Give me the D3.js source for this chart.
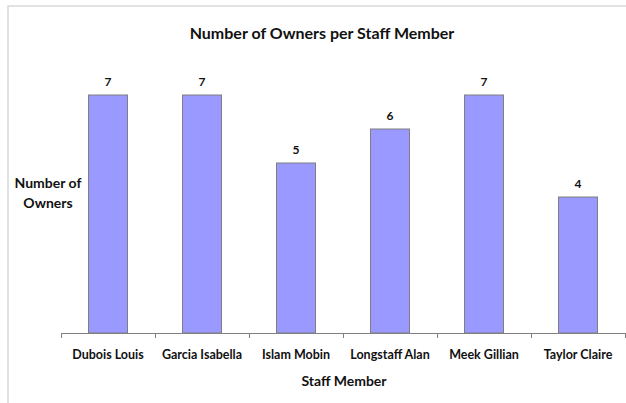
<!DOCTYPE html>
<html>
<head>
<meta charset="utf-8">
<script src="https://cdn.jsdelivr.net/npm/d3@7"></script>
<style>
  body { margin: 0; background: #fff; }
  text { font-family: Lato, "Open Sans", sans-serif; font-weight: bold; fill: #111; }
</style>
</head>
<body>
<div id="graph"></div>
<script>
// Data
const staff = ["Dubois Louis", "Garcia Isabella", "Islam Mobin", "Longstaff Alan", "Meek Gillian", "Taylor Claire"];
const owners = [7, 7, 5, 6, 7, 4];

const width = 626;
const height = 403;
const axisY = 333;
const plotLeft = 61;

const svg = d3.select("#graph").append("svg")
    .attr("width", width)
    .attr("height", height);

// outer frame of the chart
svg.append("rect")
    .attr("x", 8).attr("y", 6)
    .attr("width", 640).attr("height", 420)
    .attr("fill", "none")
    .attr("stroke", "#d9d9d9")
    .attr("stroke-width", 1.5);

const x = d3.scaleBand()
    .domain(staff)
    .range([plotLeft, plotLeft + 94 * staff.length])
    .paddingInner(0.585)
    .paddingOuter(0.2925);

// 1 owner = 34 px
const y = d3.scaleLinear()
    .domain([0, 7])
    .range([axisY, axisY - 238]);

// bars
svg.append("g")
    .selectAll("rect")
    .data(staff)
    .join("rect")
    .attr("x", d => x(d))
    .attr("y", (d, i) => y(owners[i]))
    .attr("width", x.bandwidth())
    .attr("height", (d, i) => y(0) - y(owners[i]))
    .attr("fill", "#9999ff")
    .attr("stroke", "#7f7f7f")
    .attr("stroke-width", 1);

// value labels
svg.append("g")
    .selectAll("text")
    .data(staff)
    .join("text")
    .attr("x", d => x(d) + x.bandwidth() / 2)
    .attr("y", (d, i) => y(owners[i]) - 9)
    .attr("text-anchor", "middle")
    .attr("font-size", 12)
    .text((d, i) => owners[i]);

// x axis
const step = x.step();
const tickXs = d3.range(staff.length + 1).map(i => plotLeft + i * step);
svg.append("line")
    .attr("x1", plotLeft).attr("x2", width)
    .attr("y1", axisY + 0.5).attr("y2", axisY + 0.5)
    .attr("stroke", "#808080");
svg.append("g")
    .selectAll("line")
    .data(tickXs)
    .join("line")
    .attr("x1", d => d + 0.5).attr("x2", d => d + 0.5)
    .attr("y1", axisY).attr("y2", axisY + 5)
    .attr("stroke", "#808080");

svg.append("g")
    .selectAll("text")
    .data(staff)
    .join("text")
    .attr("x", d => x(d) + x.bandwidth() / 2)
    .attr("y", axisY + 26)
    .attr("text-anchor", "middle")
    .attr("font-size", 12.5)
    .text(d => d);

// titles
svg.append("text")
    .attr("x", 322).attr("y", 39)
    .attr("text-anchor", "middle")
    .attr("font-size", 16)
    .text("Number of Owners per Staff Member");

svg.append("text")
    .attr("x", 344).attr("y", 386)
    .attr("text-anchor", "middle")
    .attr("font-size", 14)
    .text("Staff Member");

const yTitle = svg.append("text")
    .attr("text-anchor", "middle")
    .attr("font-size", 14);
yTitle.append("tspan").attr("x", 48).attr("y", 188).text("Number of");
yTitle.append("tspan").attr("x", 48).attr("y", 208).text("Owners");
</script>
</body>
</html>
